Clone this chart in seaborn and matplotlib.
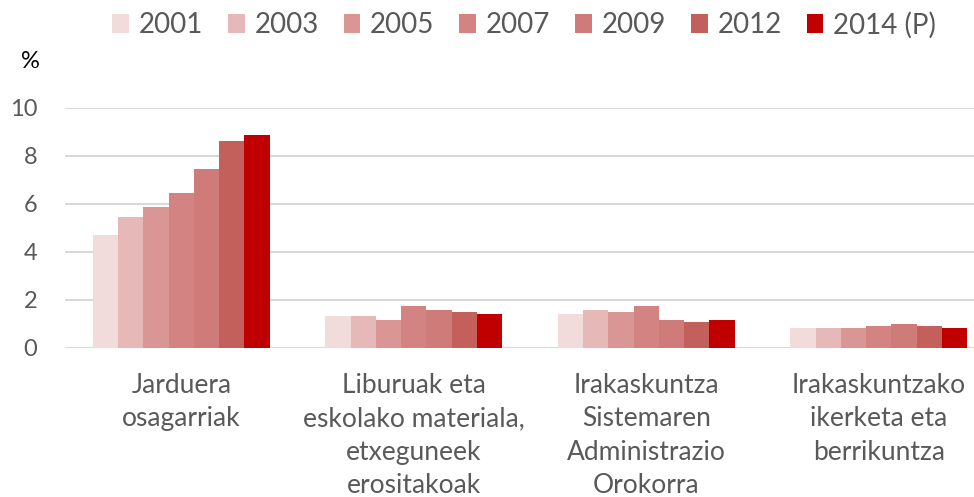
import matplotlib
matplotlib.use("Agg")
import matplotlib.pyplot as plt
import seaborn as sns
import pandas as pd

categories = ["Jarduera\nosagarriak",
              "Liburuak eta\neskolako materiala,\netxeguneek\nerositakoak",
              "Irakaskuntza\nSistemaren\nAdministrazio\nOrokorra",
              "Irakaskuntzako\nikerketa eta\nberrikuntza"]
years = ["2001", "2003", "2005", "2007", "2009", "2012", "2014 (P)"]
values = {
    "2001":     [4.71, 1.33, 1.42, 0.82],
    "2003":     [5.47, 1.33, 1.57, 0.82],
    "2005":     [5.89, 1.15, 1.49, 0.82],
    "2007":     [6.47, 1.74, 1.74, 0.92],
    "2009":     [7.46, 1.57, 1.15, 1.00],
    "2012":     [8.63, 1.49, 1.07, 0.92],
    "2014 (P)": [8.88, 1.42, 1.15, 0.82],
}
colors = ["#F2DCDB", "#E6B9B8", "#D99694", "#D38482", "#CF7B79", "#C3605C", "#C00000"]
yticks = [0, 2, 4, 6, 8, 10]

rows = []
for y in years:
    for c, v in zip(categories, values[y]):
        rows.append({"cat": c, "year": y, "val": v})
df = pd.DataFrame(rows)

sns.set_theme(style="white")
plt.rcParams["font.family"] = ["Lato", "DejaVu Sans"]

fig = plt.figure(figsize=(9.74, 4.97), dpi=100)
ax = fig.add_axes([65/974, 149/497, 930/974, 240/497])

sns.barplot(data=df, x="cat", y="val", hue="year", order=categories,
            hue_order=years, palette=colors, width=0.76, ax=ax,
            edgecolor="none", linewidth=0, saturation=1, errorbar=None)

ax.set_ylim(0, 10)
ax.set_yticks(yticks)
ax.set_xlim(-0.5, 3.5)
ax.grid(axis="y", color="#D9D9D9", linewidth=1.5)
ax.set_axisbelow(True)
for s in ax.spines.values():
    s.set_visible(False)
ax.set_xlabel("")
ax.set_ylabel("")
ax.tick_params(axis="y", length=0, pad=20, labelsize=17, labelcolor="#595959")
ax.tick_params(axis="x", length=0, pad=18, labelsize=19, labelcolor="#595959")
for lbl in ax.get_xticklabels():
    lbl.set_linespacing(1.42)
    lbl.set_verticalalignment("top")

fig.text(30/974, 1 - 62/497, "%", fontsize=17, color="black", ha="center", va="center")

handles, labels = ax.get_legend_handles_labels()
ax.legend_.remove()
fig.legend(handles, labels, loc="center", bbox_to_anchor=(524/974, 1 - 25/497),
           ncol=7, frameon=False, fontsize=20, handlelength=0.6, handleheight=0.7,
           handletextpad=0.35, columnspacing=0.9, labelcolor="#595959")

fig.savefig("out.png", dpi=100)
